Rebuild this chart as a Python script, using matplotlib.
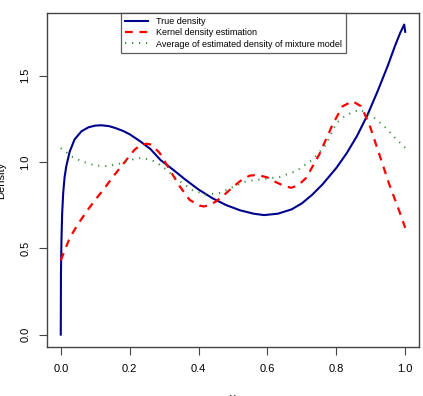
import numpy as np
import matplotlib
matplotlib.use("Agg")
import matplotlib.pyplot as plt

# true density
true_x = [0, 0.0005, 0.002, 0.004, 0.007, 0.011, 0.016, 0.026, 0.04, 0.06, 0.08, 0.1,
          0.118, 0.14, 0.157, 0.18, 0.2, 0.23, 0.26, 0.29, 0.326, 0.36, 0.4, 0.44, 0.48,
          0.52, 0.56, 0.59, 0.63, 0.67, 0.7, 0.73, 0.76, 0.8, 0.83, 0.86, 0.89, 0.92,
          0.95, 0.97, 0.985, 0.997, 1.0]
true_y = [0, 0.35, 0.55, 0.70, 0.82, 0.91, 0.975, 1.06, 1.13, 1.177, 1.20, 1.21,
          1.212, 1.207, 1.197, 1.18, 1.16, 1.12, 1.075, 1.01, 0.955, 0.90, 0.84, 0.79, 0.75,
          0.72, 0.70, 0.692, 0.70, 0.725, 0.76, 0.81, 0.87, 0.965, 1.05, 1.15, 1.27, 1.41,
          1.56, 1.67, 1.745, 1.795, 1.753]

# kernel density estimate
kde_x = [0, 0.026, 0.05, 0.079, 0.1, 0.128, 0.15, 0.176, 0.2, 0.214, 0.234, 0.25,
         0.263, 0.287, 0.316, 0.345, 0.374, 0.403, 0.415, 0.427, 0.45, 0.475, 0.5,
         0.525, 0.548, 0.57, 0.6, 0.625, 0.65, 0.669, 0.69, 0.712, 0.73, 0.751, 0.77,
         0.789, 0.818, 0.847, 0.872, 0.896, 0.925, 0.954, 0.983, 1.0]
kde_y = [0.43, 0.56, 0.64, 0.724, 0.78, 0.85, 0.91, 0.975, 1.035, 1.07, 1.10, 1.105,
         1.10, 1.052, 0.955, 0.859, 0.78, 0.747, 0.742, 0.747, 0.77, 0.81, 0.855,
         0.895, 0.92, 0.925, 0.91, 0.882, 0.86, 0.85, 0.865, 0.907, 0.97, 1.045, 1.13,
         1.216, 1.322, 1.351, 1.322, 1.216, 1.042, 0.868, 0.714, 0.618]

# average of mixture-model estimates
mix_x = [0, 0.031, 0.06, 0.099, 0.137, 0.171, 0.205, 0.234, 0.263, 0.29, 0.306, 0.345,
         0.383, 0.422, 0.461, 0.5, 0.538, 0.586, 0.635, 0.683, 0.731, 0.77, 0.8, 0.828,
         0.867, 0.905, 0.944, 0.97, 1.0]
mix_y = [1.08, 1.032, 1.004, 0.979, 0.975, 0.99, 1.013, 1.023, 1.012, 0.98, 0.955, 0.888,
         0.836, 0.81, 0.82, 0.855, 0.888, 0.90, 0.913, 0.946, 1.013, 1.10, 1.225, 1.27,
         1.303, 1.264, 1.197, 1.14, 1.081]

labels = ["True density", "Kernel density estimation",
          "Average of estimated density of mixture model"]

plt.rcParams['font.family'] = ['Liberation Sans', 'DejaVu Sans']

fig = plt.figure(figsize=(4.23, 3.96), dpi=100)
ax = fig.add_axes([47/423, 49/396, 372/423, 334/396])

ax.plot(true_x, true_y, color='#00008B', lw=1.5, label=labels[0])
ax.plot(kde_x, kde_y, color='red', lw=1.6, ls=(0, (3.5, 3)), label=labels[1])
ax.plot(mix_x, mix_y, color='#2E8B2E', lw=1.4, ls=(0, (0.6, 3)), label=labels[2])

ax.set_xlim(-0.04, 1.04)
ax.set_ylim(-0.0717, 1.862)
ax.set_xticks([0, 0.2, 0.4, 0.6, 0.8, 1.0])
ax.set_xticklabels(["0.0", "0.2", "0.4", "0.6", "0.8", "1.0"])
ax.set_yticks([0, 0.5, 1.0, 1.5])
ax.set_yticklabels(["0.0", "0.5", "1.0", "1.5"], rotation=90, va='center')
ax.tick_params(labelsize=8, length=6, color='#444444', pad=6)
for s in ax.spines.values():
    s.set_color('#444444')
    s.set_linewidth(1.0)

ax.set_xlabel("y", fontsize=8, labelpad=14)
ax.set_ylabel("Density", fontsize=8, labelpad=10)

leg = ax.legend(loc='upper center', bbox_to_anchor=(0.501, 1.0), fontsize=6.5,
                frameon=True, fancybox=False, edgecolor='#333333',
                handlelength=2.6, borderpad=0.45, labelspacing=0.25,
                handletextpad=0.9, borderaxespad=0)
leg.get_frame().set_linewidth(0.9)

fig.savefig("out.png", dpi=100)
